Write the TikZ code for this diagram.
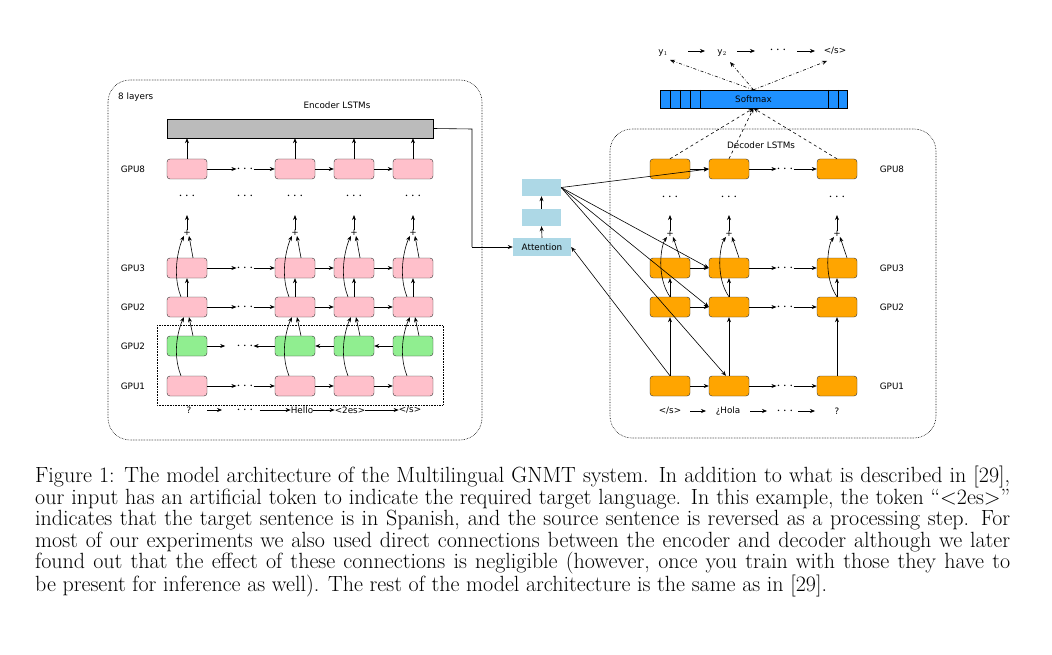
\documentclass[tikz,border=0pt]{standalone}
\usepackage{fontspec}
\newfontfamily\djsans{DejaVu Sans}
\usetikzlibrary{arrows.meta,calc}
\definecolor{pinkc}{HTML}{FFC0CB}
\definecolor{greenc}{HTML}{90EE90}
\definecolor{orangec}{HTML}{FFA500}
\definecolor{lblue}{HTML}{ADD8E6}
\definecolor{smax}{HTML}{1E90FF}
\definecolor{grayc}{HTML}{BBBBBB}
\newcommand{\mydots}{{\fontsize{14}{14}\selectfont$\cdots$}}
\begin{document}
\begin{tikzpicture}[x=1pt,y=-1pt,
  cell/.style={draw=black!80,rounded corners=3pt,minimum width=40pt,minimum height=20pt,inner sep=0pt},
  pk/.style={cell,fill=pinkc}, gr/.style={cell,fill=greenc}, og/.style={cell,fill=orangec},
  lbl/.style={font=\djsans\fontsize{8.8}{10}\selectfont,inner sep=0pt},
  ar/.style={-{Stealth[length=5pt,width=4pt]},line width=0.6pt},
  frame/.style={draw,densely dotted,rounded corners=22pt,line width=0.6pt},
  ab/.style={fill=lblue,inner sep=0pt}]
\useasboundingbox (0,0) rectangle (1052,655);
% ---------- encoder ----------
\draw[frame] (108,80) rectangle (482,440);
\node[lbl,anchor=west] (l8) at (118,97) {8 layers};
\node[lbl] (enct) at (337,105) {Encoder LSTMs};
\node[draw,fill=grayc,minimum width=266pt,minimum height=19pt,inner sep=0pt] (bar) at (300,128.5) {};
\draw[densely dotted,line width=0.6pt] (157,325) rectangle (443,405);
\foreach \n/\y in {GPU8/169,GPU3/268,GPU2/307,GPU2/346,GPU1/386}
  \node[lbl] at (133,\y) {\n};
\foreach \c/\x in {1/187,2/295,3/354,4/413}{
  \node[pk] (e8\c) at (\x,169) {};
  \node[pk] (e3\c) at (\x,268) {};
  \node[pk] (e2\c) at (\x,307) {};
  \node[gr] (eg\c) at (\x,346) {};
  \node[pk] (e1\c) at (\x,386) {};
  \node[lbl] (ep\c) at (\x,233) {+};
  \node[lbl] (ed\c) at (\x,196) {\mydots};
  \draw[ar] (e8\c.north) -- (e8\c.north |- bar.south);
  \draw[ar] (ep\c.north) -- ++(0,-15);
  \draw[ar] (e2\c.north) -- (e3\c.south);
  \draw[ar] ([xshift=-6pt]e2\c.north) .. controls ++(-10,-25) and ++(-4,8) .. ([xshift=-3pt]ep\c.south);
  \draw[ar] ([xshift=6pt]e3\c.north) -- ([xshift=2pt]ep\c.south);
  \draw[ar] ([xshift=-6pt]e1\c.north) .. controls ++(-10,-25) and ++(-4,8) .. ([xshift=-3pt]e2\c.south);
  \draw[ar] ([xshift=6pt]eg\c.north) -- ([xshift=2pt]e2\c.south);
}
\node[lbl] (edx) at (245,196) {\mydots};
\foreach \r in {8,3,2,1}{
  \node[lbl] (edots\r) at (245,0 |- e\r1) {\mydots};
  \draw[ar] (e\r1.east) -- (edots\r.west);
  \draw[ar] (edots\r.east) -- (e\r2.west);
  \draw[ar] (e\r2.east) -- (e\r3.west);
  \draw[ar] (e\r3.east) -- (e\r4.west);
}
\node[lbl] (edotsg) at (245,346) {\mydots};
\draw[ar] (eg1.east) -- ++(18,0);
\draw[ar] (eg2.west) -- (edotsg.east);
\draw[ar] (eg3.west) -- (eg2.east);
\draw[ar] (eg4.west) -- (eg3.east);
% tokens
\node[lbl] (t1) at (189,410) {?};
\node[lbl] (t2) at (245,410) {\mydots};
\node[lbl] (t3) at (302,410) {Hello};
\node[lbl] (t4) at (350,410) {<2es>};
\node[lbl] (t5) at (410,410) {</s>};
\draw[ar] (207,410) -- (222,410);
\draw[ar] (t2.east) ++(6,0) -- (t3.west);
\draw[ar] (t3.east) -- (t4.west);
\draw[ar] (t4.east) -- (t5.west);
% ---------- attention ----------
\node[ab,minimum width=58pt,minimum height=18pt,font=\djsans\fontsize{8.8}{10}\selectfont] (att) at (542,247) {Attention};
\node[ab,minimum width=39pt,minimum height=17pt] (a2) at (541.5,217.5) {};
\node[ab,minimum width=39pt,minimum height=17pt] (a3) at (541.5,187.5) {};
\draw[ar] (att.north) -- (a2.south);
\draw[ar] (a2.north) -- (a3.south);
\draw[line width=0.6pt] (bar.east) -- (472,129) -- (472,247);
\draw[ar] (472,247) -- (att.west);
% ---------- decoder ----------
\draw[frame] (610,129) rectangle (936,438);
\node[lbl] (dect) at (761,145) {Decoder LSTMs};
\foreach \n/\y in {GPU8/169,GPU3/268,GPU2/307,GPU1/386}
  \node[lbl] at (892,\y) {\n};
\foreach \c/\x in {1/670,2/729,3/837}{
  \node[og] (d8\c) at (\x,169) {};
  \node[og] (d3\c) at (\x,268) {};
  \node[og] (d2\c) at (\x,307) {};
  \node[og] (d1\c) at (\x,386) {};
  \node[lbl] (dp\c) at (\x,234) {+};
  \node[lbl] (dd\c) at (\x,197) {\mydots};
  \draw[ar] (dp\c.north) -- ++(0,-16);
  \draw[ar] (d2\c.north) -- (d3\c.south);
  \draw[ar] (d1\c.north) -- (d2\c.south);
  \draw[ar] ([xshift=0pt]d2\c.north) .. controls ++(-14,-20) and ++(-6,8) .. ([xshift=-3pt]dp\c.south);
  \draw[ar] ([xshift=10pt]d3\c.north) -- ([xshift=3pt]dp\c.south);
}
\foreach \r in {8,3,2,1}{
  \node[lbl] (ddots\r) at (785,0 |- d\r1) {\mydots};
  \draw[ar] (d\r1.east) -- (d\r2.west);
  \draw[ar] (d\r2.east) -- (ddots\r.west);
  \draw[ar] (ddots\r.east) -- (d\r3.west);
}
\node[lbl] (s1) at (670,411) {</s>};
\node[lbl] (s2) at (728,411) {¿Hola};
\node[lbl] (s3) at (785,411) {\mydots};
\node[lbl] (s4) at (837,411) {?};
\draw[ar] (690,411) -- (706,411);
\draw[ar] (750,411) -- (767,411);
\draw[ar] (798,411) -- (815,411);
% attention links
\draw[ar] (a3.east) -- (d82.west);
\draw[ar] (a3.east) -- (d32.west);
\draw[ar] (a3.east) -- (d22.west);
\draw[ar] (a3.east) -- ([xshift=-3pt]d12.north);
\draw[ar] (d11.north) -- (att.east);
% softmax
\node[draw,fill=smax,minimum width=187pt,minimum height=18pt,inner sep=0pt,font=\djsans\fontsize{8.8}{10}\selectfont] (sm) at (753.5,99) {Softmax};
\foreach \x in {670,680,690,700,828,838} \draw (\x,90) -- (\x,108);
\foreach \c in {1,2,3} \draw[ar,dashed] (d8\c.north) -- (sm.south);
\node[lbl] (y1) at (663,53) {y$_1$};
\node[lbl] (y2) at (722,53) {y$_2$};
\node[lbl] (y3) at (778,50) {\mydots};
\node[lbl] (y4) at (835,51) {</s>};
\draw[ar] (688,51) -- (705,51);
\draw[ar] (737,51) -- (755,51);
\draw[ar] (797,51) -- (815,51);
\draw[ar,dash dot] (sm.north) -- (670,60);
\draw[ar,dash dot] (sm.north) -- (730,62);
\draw[ar,dash dot] (sm.north) -- (827,61);
% caption
\node[anchor=north west,inner sep=0pt,text width=975pt,align=justify,font=\fontsize{22}{21.5}\selectfont] (cap) at (35,466) {Figure 1: The model architecture of the Multilingual GNMT system. In addition to what is described in [29],\linebreak
our input has an artificial token to indicate the required target language. In this example, the token ``<2es>''\linebreak
indicates that the target sentence is in Spanish, and the source sentence is reversed as a processing step. For\linebreak
most of our experiments we also used direct connections between the encoder and decoder although we later\linebreak
found out that the effect of these connections is negligible (however, once you train with those they have to\linebreak
be present for inference as well). The rest of the model architecture is the same as in [29].};
\end{tikzpicture}
\end{document}
